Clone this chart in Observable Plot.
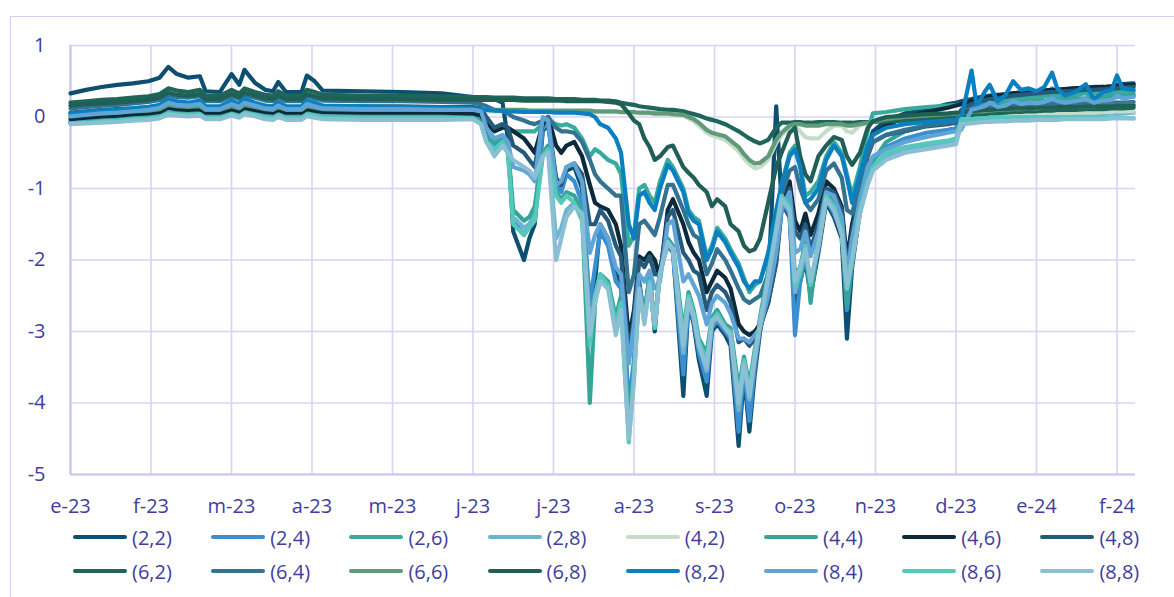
<!DOCTYPE html>
<html><head><meta charset="utf-8">
<script src="https://cdn.jsdelivr.net/npm/d3@7"></script>
<script src="https://cdn.jsdelivr.net/npm/@observablehq/plot@0.6"></script>
<style>
body{margin:0;background:#fff;font-family:"Open Sans",sans-serif;}
#frame{position:absolute;left:10px;top:16px;width:1200px;height:640px;border:1px solid #d3cef2;box-sizing:border-box;}
#chart{position:absolute;left:0;top:0;}
#legend{position:absolute;left:0;top:0;width:1174px;height:597px;}
.item{position:absolute;display:flex;align-items:center;height:28px;font-size:20px;color:#3f3d9e;white-space:nowrap;}
.sw{width:54px;height:4px;border-radius:2px;margin-right:5px;}
</style></head><body>
<div id="frame"></div>
<div id="chart"></div>
<div id="legend"></div>
<script>
// ---- data ----
const xLabels = ["e-23","f-23","m-23","a-23","m-23","j-23","j-23","a-23","s-23","o-23","n-23","d-23","e-24","f-24"];
const yTicks = [1,0,-1,-2,-3,-4,-5];
const names = ["(2,2)","(2,4)","(2,6)","(2,8)","(4,2)","(4,4)","(4,6)","(4,8)","(6,2)","(6,4)","(6,6)","(6,8)","(8,2)","(8,4)","(8,6)","(8,8)"];
const colors = ["#0d4f70","#3b8fd0","#37ab9e","#6fb3d0","#c6dccb","#34a597","#0b2a3c","#265a7a","#1d6659","#317390","#5f9a79","#1f5f56","#0b80c0","#60a4d8","#55c8bc","#8bc0d4"];

const dates = [
 "2023-01-01","2023-01-07","2023-01-13","2023-01-19","2023-01-25","2023-01-31","2023-02-04","2023-02-07","2023-02-10","2023-02-14","2023-02-18","2023-02-20","2023-02-25","2023-03-01","2023-03-04","2023-03-06","2023-03-10","2023-03-14","2023-03-17","2023-03-19","2023-03-22","2023-03-28","2023-03-30","2023-04-02","2023-04-05","2023-04-20","2023-05-05","2023-05-20",
 "2023-06-01","2023-06-04","2023-06-06","2023-06-09","2023-06-12","2023-06-14","2023-06-16","2023-06-20","2023-06-22","2023-06-24","2023-06-27","2023-06-29",
 "2023-07-02","2023-07-04","2023-07-06","2023-07-09","2023-07-12","2023-07-15","2023-07-17","2023-07-19","2023-07-22","2023-07-25","2023-07-27","2023-07-30",
 "2023-08-01","2023-08-03","2023-08-05","2023-08-07","2023-08-09","2023-08-11","2023-08-14","2023-08-16","2023-08-20","2023-08-22","2023-08-24","2023-08-26","2023-08-29","2023-08-31",
 "2023-09-02","2023-09-05","2023-09-07","2023-09-10","2023-09-12","2023-09-14","2023-09-16","2023-09-18","2023-09-21","2023-09-24","2023-09-26","2023-09-29",
 "2023-10-01","2023-10-03","2023-10-05","2023-10-07","2023-10-10","2023-10-13","2023-10-16","2023-10-19","2023-10-21","2023-10-23","2023-10-26","2023-10-29","2023-10-31",
 "2023-11-05","2023-11-12","2023-11-20","2023-11-28","2023-12-01","2023-12-03","2023-12-07","2023-12-09","2023-12-12","2023-12-14","2023-12-17","2023-12-20","2023-12-23","2023-12-26","2023-12-29",
 "2024-01-01","2024-01-04","2024-01-07","2024-01-09","2024-01-12","2024-01-16","2024-01-20","2024-01-23","2024-01-27","2024-01-30","2024-02-01","2024-02-03","2024-02-07"
];

const s22 = [
 0.33,0.38,0.42,0.45,0.47,0.5,0.55,0.7,0.6,0.55,0.57,0.36,0.35,0.6,0.45,0.66,0.48,0.38,0.36,0.49,0.35,0.35,0.58,0.5,0.37,0.36,0.35,0.33,
 0.28,0.27,0.26,0.25,0.2,-0.3,-1.6,-2.0,-1.7,-1.5,-0.2,-0.1,
 -0.9,-1.0,-0.75,-0.7,-1.0,-2.8,-2.3,-1.5,-1.7,-2.2,-2.3,-4.1,
 -3.5,-2.3,-2.8,-2.2,-3.0,-2.1,-1.75,-1.85,-3.9,-2.6,-2.9,-3.4,-3.9,-3.0,
 -2.9,-3.05,-3.2,-4.6,-3.6,-4.4,-3.6,-3.0,-2.4,0.15,-1.2,-1.4,
 -2.6,-2.3,-2.0,-2.5,-1.9,-1.2,-1.4,-1.7,-3.1,-2.1,-1.3,-0.45,-0.2,
 -0.05,0.05,0.1,0.18,0.2,0.22,0.25,0.27,0.29,0.3,0.31,0.32,0.33,0.34,0.35,0.36,0.37,0.38,0.38,0.39,0.4,0.41,0.42,0.42,0.43,0.45,0.46,0.47
];
const s24 = [
 0.02,0.04,0.06,0.07,0.09,0.11,0.14,0.21,0.18,0.17,0.19,0.12,0.12,0.19,0.15,0.21,0.17,0.13,0.12,0.17,0.12,0.12,0.19,0.16,0.13,0.12,0.12,0.11,
 0.1,0.05,-0.25,-0.4,-0.3,-0.45,-1.45,-1.65,-1.5,-1.4,-0.15,-0.1,
 -0.95,-1.05,-0.8,-0.9,-1.2,-2.6,-2.1,-1.6,-1.8,-2.3,-2.4,-4.0,
 -3.4,-2.35,-2.75,-2.25,-2.95,-2.15,-1.8,-1.9,-3.6,-2.6,-2.85,-3.3,-3.7,-2.95,
 -2.85,-3.0,-3.1,-4.4,-3.5,-4.25,-3.5,-2.95,-2.3,-1.55,-1.2,-1.35,
 -3.05,-2.3,-1.95,-2.4,-1.85,-1.15,-1.35,-1.6,-2.7,-2.05,-1.35,-0.75,-0.6,
 -0.42,-0.3,-0.22,-0.18,-0.15,0.05,0.1,0.14,0.2,0.26,0.18,0.22,0.3,0.25,0.28,0.24,0.3,0.4,0.28,0.25,0.3,0.35,0.22,0.28,0.3,0.42,0.3,0.32
];
const s26 = [
 -0.07,-0.06,-0.04,-0.03,-0.01,0.0,0.03,0.08,0.07,0.06,0.07,0.02,0.02,0.07,0.04,0.09,0.06,0.03,0.02,0.06,0.02,0.02,0.07,0.05,0.03,0.02,0.02,0.02,
 0.02,0.0,-0.1,-0.15,-0.1,-0.15,-0.2,-0.2,-0.2,-0.2,-0.1,-0.05,
 -0.1,-0.12,-0.1,-0.15,-0.3,-0.55,-0.45,-0.5,-0.6,-0.65,-0.8,-1.8,
 -1.65,-1.0,-0.95,-1.1,-1.2,-0.9,-0.6,-0.7,-1.0,-1.3,-1.4,-1.45,-1.95,-1.8,
 -1.55,-1.7,-1.85,-2.05,-2.25,-2.45,-2.35,-2.3,-1.95,-1.35,-0.95,-0.5,
 -0.4,-0.65,-1.1,-1.05,-0.9,-0.55,-0.35,-0.5,-0.8,-1.1,-0.7,-0.2,0.05,
 0.07,0.11,0.14,0.16,0.17,0.18,0.2,0.21,0.22,0.23,0.24,0.25,0.26,0.27,0.27,0.28,0.29,0.3,0.3,0.31,0.32,0.33,0.33,0.34,0.34,0.35,0.35,0.36
];
const s28 = [
 -0.07,-0.05,-0.03,-0.02,0.0,0.02,0.04,0.1,0.08,0.07,0.08,0.03,0.03,0.08,0.05,0.1,0.07,0.04,0.03,0.07,0.03,0.03,0.08,0.06,0.04,0.03,0.03,0.02,
 0.0,-0.08,-0.3,-0.5,-0.35,-0.5,-1.4,-1.55,-1.5,-1.35,-0.5,-0.45,
 -1.7,-1.55,-1.3,-1.2,-1.35,-2.9,-2.5,-2.2,-2.3,-2.9,-2.6,-4.35,
 -3.6,-2.4,-2.85,-2.3,-2.9,-2.2,-1.75,-1.85,-3.3,-2.55,-2.8,-3.2,-3.55,-2.9,
 -2.8,-2.95,-3.05,-4.1,-3.45,-3.95,-3.4,-2.9,-2.25,-1.55,-1.15,-1.3,
 -2.45,-2.15,-1.85,-2.35,-1.8,-1.15,-1.3,-1.6,-2.5,-2.0,-1.35,-0.9,-0.7,
 -0.55,-0.45,-0.4,-0.35,-0.33,-0.05,-0.04,-0.03,-0.02,-0.01,0.0,0.0,0.01,0.01,0.02,0.02,0.02,0.03,0.03,0.03,0.04,0.04,0.04,0.05,0.05,0.05,0.05,0.06
];
const s42 = [
 0.0,0.02,0.03,0.04,0.06,0.07,0.09,0.15,0.13,0.12,0.13,0.08,0.08,0.13,0.1,0.15,0.12,0.09,0.08,0.12,0.08,0.08,0.13,0.11,0.09,0.08,0.08,0.08,
 0.08,0.08,0.08,0.08,0.08,0.08,0.08,0.08,0.08,0.08,0.08,0.08,
 0.08,0.08,0.08,0.07,0.07,0.07,0.07,0.07,0.07,0.07,0.06,0.06,
 0.06,0.05,0.05,0.05,0.04,0.04,0.04,0.03,0.02,-0.02,-0.06,-0.12,-0.22,-0.26,
 -0.28,-0.32,-0.38,-0.48,-0.58,-0.66,-0.72,-0.7,-0.6,-0.36,-0.25,-0.14,
 -0.12,-0.2,-0.28,-0.3,-0.3,-0.2,-0.12,-0.12,-0.2,-0.22,-0.12,-0.08,-0.06,
 -0.05,-0.04,-0.03,-0.02,-0.02,-0.01,0.0,0.0,0.01,0.01,0.02,0.02,0.03,0.03,0.03,0.04,0.04,0.05,0.05,0.05,0.06,0.06,0.06,0.07,0.07,0.08,0.08,0.08
];
const s44 = [
 -0.08,-0.07,-0.05,-0.04,-0.02,-0.01,0.01,0.06,0.05,0.04,0.05,0.0,0.0,0.05,0.02,0.07,0.04,0.01,0.0,0.04,0.0,0.0,0.05,0.03,0.01,0.0,0.0,0.0,
 0.0,-0.05,-0.3,-0.35,-0.3,-0.4,-1.3,-1.45,-1.4,-1.25,-0.5,-0.4,
 -1.05,-1.15,-1.05,-1.1,-1.3,-4.0,-2.6,-2.2,-2.3,-2.8,-2.5,-4.4,
 -3.5,-2.4,-2.8,-2.25,-2.9,-2.15,-1.7,-1.8,-3.0,-2.45,-2.7,-3.1,-3.3,-2.8,
 -2.7,-2.9,-2.95,-3.8,-3.35,-3.75,-3.25,-2.8,-2.15,-1.5,-1.05,-1.2,
 -2.2,-2.1,-1.75,-2.6,-1.7,-1.05,-1.2,-1.55,-2.65,-1.95,-1.25,-0.8,-0.62,
 -0.35,-0.2,-0.12,-0.08,-0.05,0.08,0.12,0.14,0.16,0.17,0.18,0.19,0.2,0.21,0.22,0.22,0.23,0.24,0.24,0.25,0.26,0.26,0.27,0.27,0.28,0.28,0.29,0.3
];
const s46 = [
 -0.03,-0.01,0.01,0.02,0.04,0.05,0.07,0.13,0.11,0.1,0.11,0.06,0.06,0.11,0.08,0.13,0.1,0.07,0.06,0.1,0.06,0.06,0.11,0.09,0.07,0.06,0.06,0.06,
 0.05,0.02,-0.1,-0.2,-0.15,-0.15,-0.2,-0.3,-0.4,-0.5,-0.1,0.0,
 -0.4,-0.5,-0.4,-0.35,-0.55,-0.95,-1.2,-1.25,-1.3,-1.5,-1.8,-3.1,
 -2.7,-1.95,-2.0,-1.9,-2.0,-2.25,-1.3,-1.15,-1.5,-1.75,-1.9,-2.0,-2.45,-2.3,
 -2.15,-2.25,-2.4,-2.9,-3.0,-3.05,-3.0,-2.9,-2.6,-2.0,-1.25,-0.9,
 -1.45,-1.6,-1.35,-1.65,-1.35,-0.9,-1.0,-1.25,-2.0,-1.5,-1.0,-0.45,-0.25,
 -0.12,0.0,0.07,0.13,0.16,0.18,0.22,0.24,0.27,0.28,0.3,0.31,0.33,0.34,0.35,0.36,0.37,0.38,0.38,0.39,0.4,0.41,0.41,0.42,0.43,0.44,0.44,0.45
];
const s48 = [
 0.06,0.08,0.1,0.11,0.12,0.14,0.16,0.23,0.2,0.19,0.21,0.14,0.14,0.21,0.17,0.23,0.19,0.15,0.14,0.19,0.14,0.14,0.21,0.18,0.15,0.15,0.15,0.14,
 0.14,0.12,0.0,-0.15,-0.1,-0.15,-0.4,-0.5,-0.6,-0.7,-0.05,-0.03,
 -0.85,-0.95,-0.7,-0.65,-0.8,-1.5,-1.5,-1.3,-1.45,-1.8,-1.95,-3.3,
 -2.8,-2.0,-2.1,-1.95,-2.2,-2.2,-1.4,-1.3,-1.9,-2.0,-2.15,-2.2,-2.7,-2.45,
 -2.35,-2.45,-2.6,-3.15,-3.1,-3.2,-3.1,-2.95,-2.6,-2.05,-1.3,-1.0,
 -1.6,-1.7,-1.5,-1.85,-1.5,-1.0,-1.05,-1.3,-2.1,-1.6,-1.05,-0.55,-0.35,
 -0.25,-0.2,-0.13,-0.1,-0.08,0.1,0.18,0.2,0.23,0.25,0.26,0.28,0.3,0.31,0.32,0.33,0.34,0.35,0.35,0.36,0.37,0.38,0.38,0.39,0.4,0.4,0.41,0.42
];
const s62 = [
 0.2,0.22,0.24,0.25,0.27,0.29,0.32,0.4,0.37,0.35,0.38,0.3,0.3,0.38,0.33,0.4,0.35,0.31,0.3,0.36,0.3,0.3,0.38,0.35,0.31,0.3,0.3,0.29,
 0.28,0.28,0.28,0.27,0.27,0.27,0.27,0.26,0.26,0.26,0.26,0.26,
 0.25,0.25,0.25,0.25,0.24,0.24,0.24,0.23,0.23,0.22,0.2,0.18,
 0.17,0.15,0.14,0.13,0.12,0.11,0.1,0.1,0.08,0.06,0.04,0.02,-0.02,-0.04,
 -0.06,-0.1,-0.14,-0.2,-0.25,-0.3,-0.34,-0.37,-0.32,-0.15,-0.08,-0.08,
 -0.07,-0.07,-0.08,-0.08,-0.07,-0.07,-0.07,-0.08,-0.08,-0.08,-0.07,-0.07,-0.07,
 -0.06,-0.05,-0.03,-0.01,0.0,0.01,0.02,0.03,0.04,0.05,0.05,0.06,0.07,0.07,0.08,0.08,0.09,0.09,0.1,0.1,0.1,0.11,0.11,0.11,0.12,0.12,0.12,0.13
];
const s64 = [
 0.12,0.14,0.16,0.17,0.19,0.21,0.24,0.31,0.28,0.27,0.29,0.22,0.22,0.29,0.25,0.31,0.27,0.23,0.22,0.27,0.22,0.22,0.29,0.26,0.23,0.22,0.22,0.21,
 0.2,0.18,0.15,0.1,0.08,0.05,0.0,-0.05,-0.08,-0.1,-0.05,0.0,
 -0.15,-0.2,-0.2,-0.22,-0.35,-0.6,-0.8,-0.9,-1.0,-1.1,-1.1,-2.45,
 -2.2,-1.5,-1.45,-1.55,-1.65,-1.4,-0.95,-0.95,-1.3,-1.5,-1.65,-1.7,-2.2,-2.05,
 -1.85,-2.0,-2.15,-2.4,-2.55,-2.6,-2.55,-2.5,-2.2,-1.6,-1.1,-0.75,
 -0.7,-1.0,-1.2,-1.3,-1.15,-0.75,-0.65,-0.85,-1.3,-1.35,-0.9,-0.5,-0.35,
 -0.25,-0.18,-0.12,-0.08,-0.06,0.08,0.12,0.13,0.14,0.14,0.15,0.15,0.16,0.16,0.17,0.17,0.17,0.18,0.18,0.18,0.19,0.19,0.19,0.2,0.2,0.2,0.2,0.21
];
const s66 = [
 0.02,0.04,0.05,0.06,0.08,0.09,0.11,0.17,0.15,0.14,0.15,0.1,0.1,0.15,0.12,0.17,0.14,0.11,0.1,0.14,0.1,0.1,0.15,0.13,0.11,0.1,0.1,0.1,
 0.1,0.1,0.1,0.1,0.1,0.1,0.1,0.1,0.09,0.09,0.09,0.09,
 0.09,0.09,0.09,0.09,0.09,0.09,0.08,0.08,0.08,0.08,0.07,0.07,
 0.07,0.06,0.06,0.06,0.05,0.05,0.05,0.04,0.03,0.0,-0.03,-0.08,-0.18,-0.22,
 -0.24,-0.27,-0.33,-0.42,-0.52,-0.6,-0.65,-0.64,-0.55,-0.32,-0.22,-0.12,
 -0.1,-0.1,-0.12,-0.12,-0.12,-0.1,-0.1,-0.1,-0.12,-0.12,-0.1,-0.08,-0.07,
 -0.03,0.0,0.02,0.04,0.05,0.06,0.07,0.08,0.08,0.09,0.1,0.1,0.11,0.11,0.12,0.12,0.13,0.13,0.14,0.14,0.14,0.15,0.15,0.16,0.16,0.16,0.17,0.17
];
const s68 = [
 0.16,0.18,0.19,0.2,0.22,0.24,0.27,0.34,0.31,0.3,0.32,0.25,0.25,0.32,0.28,0.34,0.3,0.26,0.25,0.3,0.25,0.25,0.32,0.29,0.26,0.25,0.25,0.24,
 0.24,0.24,0.24,0.24,0.24,0.24,0.24,0.23,0.23,0.23,0.23,0.23,
 0.23,0.23,0.22,0.22,0.22,0.22,0.22,0.22,0.21,0.2,0.18,0.05,
 -0.05,-0.1,-0.3,-0.42,-0.6,-0.55,-0.42,-0.4,-0.7,-0.78,-0.85,-0.95,-1.05,-1.25,
 -1.15,-1.25,-1.5,-1.6,-1.8,-1.88,-1.85,-1.7,-1.2,-0.7,-0.5,-0.22,
 -0.15,-0.55,-0.8,-0.9,-0.55,-0.4,-0.28,-0.32,-0.55,-0.67,-0.5,-0.15,-0.06,
 0.0,0.02,0.04,0.05,0.06,0.07,0.08,0.09,0.1,0.1,0.11,0.11,0.12,0.12,0.12,0.13,0.13,0.13,0.14,0.14,0.14,0.15,0.15,0.15,0.15,0.16,0.16,0.16
];
const s82 = [
 0.05,0.07,0.09,0.1,0.12,0.14,0.17,0.25,0.22,0.2,0.23,0.15,0.15,0.23,0.18,0.26,0.2,0.16,0.15,0.21,0.15,0.15,0.23,0.2,0.16,0.15,0.14,0.13,
 0.12,0.1,0.1,0.09,0.09,0.08,0.08,0.07,0.07,0.07,0.07,0.07,
 0.06,0.06,0.06,0.06,0.05,0.04,0.0,-0.1,-0.15,-0.3,-0.5,-1.5,
 -1.7,-1.1,-1.05,-1.2,-1.3,-1.0,-0.67,-0.75,-1.05,-1.35,-1.45,-1.5,-2.0,-1.85,
 -1.6,-1.75,-1.9,-2.1,-2.3,-2.4,-2.3,-2.3,-1.9,-1.3,-0.95,-0.55,
 -0.45,-0.7,-1.2,-1.15,-1.0,-0.6,-0.4,-0.55,-0.85,-1.2,-0.8,-0.4,-0.25,
 -0.15,-0.1,-0.07,-0.05,-0.04,-0.03,0.65,0.15,0.35,0.45,0.22,0.3,0.5,0.38,0.4,0.36,0.42,0.62,0.4,0.3,0.35,0.46,0.25,0.35,0.38,0.58,0.4,0.38
];
const s84 = [
 0.01,0.03,0.05,0.06,0.08,0.1,0.13,0.2,0.17,0.16,0.18,0.11,0.11,0.18,0.14,0.2,0.16,0.12,0.11,0.16,0.11,0.11,0.18,0.15,0.12,0.11,0.11,0.1,
 0.1,0.08,-0.15,-0.3,-0.25,-0.35,-0.7,-0.75,-0.8,-0.9,0.0,-0.05,
 -0.95,-0.9,-0.7,-0.65,-0.9,-1.9,-1.65,-1.5,-1.7,-2.1,-2.2,-3.45,
 -2.9,-2.2,-2.3,-2.15,-2.4,-2.3,-1.5,-1.45,-2.3,-2.2,-2.35,-2.5,-2.9,-2.6,
 -2.5,-2.6,-2.75,-3.1,-3.1,-3.15,-3.05,-2.95,-2.5,-1.9,-1.3,-1.05,
 -1.9,-1.85,-1.6,-1.95,-1.6,-1.05,-1.1,-1.4,-2.2,-1.7,-1.15,-0.7,-0.55,
 -0.45,-0.35,-0.28,-0.22,-0.2,-0.18,0.1,0.12,0.15,0.2,0.14,0.16,0.22,0.18,0.2,0.19,0.21,0.26,0.22,0.2,0.22,0.25,0.2,0.23,0.24,0.3,0.26,0.28
];
const s86 = [
 -0.09,-0.08,-0.06,-0.05,-0.03,-0.02,0.0,0.05,0.04,0.03,0.04,-0.01,-0.01,0.04,0.01,0.06,0.03,0.0,-0.01,0.03,-0.01,-0.01,0.04,0.02,0.0,-0.01,-0.01,-0.01,
 -0.02,-0.1,-0.35,-0.45,-0.35,-0.5,-1.5,-1.65,-1.55,-1.45,-0.55,-0.45,
 -1.1,-1.2,-1.1,-1.2,-1.45,-3.2,-2.5,-2.2,-2.35,-2.9,-2.6,-4.55,
 -3.6,-2.45,-2.85,-2.3,-2.95,-2.2,-1.75,-1.85,-3.1,-2.5,-2.75,-3.15,-3.4,-2.85,
 -2.75,-2.95,-3.0,-3.95,-3.4,-3.85,-3.3,-2.85,-2.2,-1.55,-1.1,-1.25,
 -2.35,-2.2,-1.8,-2.35,-1.75,-1.1,-1.25,-1.6,-2.3,-1.95,-1.3,-0.9,-0.7,
 -0.5,-0.42,-0.37,-0.33,-0.3,-0.03,-0.03,-0.02,-0.02,-0.01,-0.01,-0.01,0.0,0.0,0.0,0.0,0.0,0.0,0.0,0.0,-0.01,0.0,0.0,0.0,-0.01,0.0,-0.01,-0.02
];
const s88 = [
 -0.1,-0.09,-0.08,-0.07,-0.05,-0.04,-0.02,0.03,0.02,0.01,0.02,-0.03,-0.03,0.02,-0.01,0.04,0.01,-0.03,-0.04,0.0,-0.04,-0.04,0.01,-0.01,-0.03,-0.04,-0.04,-0.04,
 -0.03,-0.1,-0.35,-0.55,-0.4,-0.5,-0.6,-0.7,-0.75,-0.85,-0.55,-0.5,
 -2.0,-1.7,-1.4,-1.25,-1.35,-3.05,-2.6,-2.3,-2.4,-3.05,-2.7,-4.5,
 -3.7,-2.4,-2.9,-2.35,-2.9,-2.2,-1.75,-1.85,-3.2,-2.55,-2.8,-3.2,-3.5,-2.85,
 -2.8,-2.95,-3.05,-4.0,-3.45,-3.9,-3.35,-2.9,-2.25,-1.6,-1.15,-1.3,
 -2.3,-2.1,-1.85,-2.3,-1.8,-1.15,-1.3,-1.65,-2.4,-2.0,-1.35,-0.95,-0.75,
 -0.6,-0.5,-0.45,-0.4,-0.38,-0.1,-0.09,-0.08,-0.07,-0.07,-0.06,-0.06,-0.05,-0.05,-0.05,-0.04,-0.04,-0.04,-0.04,-0.03,-0.03,-0.03,-0.03,-0.03,-0.02,-0.02,-0.02,-0.02
];
const seriesValues = [s22,s24,s26,s28,s42,s44,s46,s48,s62,s64,s66,s68,s82,s84,s86,s88];

// ---- build ----
function toT(s){ const [y,m,d]=s.split("-").map(Number); const dim=new Date(y,m,0).getDate(); return (y-2023)*12+(m-1)+(d-1)/dim; }
const ts = dates.map(toT);
const TXT = "#3f3d9e", GRID = "#d8d3f3", AXIS = "#cbc5ee";
const H = 520;
const lineMarks = names.map((n,k) => {
  const rows = ts.map((t,i) => ({t, v: seriesValues[k][i], s: n}));
  return Plot.line(rows, {x:"t", y:"v", stroke:"s", strokeWidth:4.2, strokeLinejoin:"round", strokeLinecap:"round"});
});
const chart = Plot.plot({
  width: 1174, height: H,
  marginTop: 45, marginBottom: H-474, marginLeft: 70, marginRight: 39,
  style: {fontFamily: '"Open Sans", sans-serif', background: "transparent", overflow: "visible"},
  x: {domain: [0, 13.23], axis: null, label: null},
  y: {domain: [-5, 1], axis: null, label: null},
  color: {domain: names, range: colors},
  marks: [
    Plot.ruleY(yTicks, {stroke: GRID, strokeWidth: 1.6}),
    Plot.ruleX(d3.range(xLabels.length), {stroke: GRID, strokeWidth: 1.6}),
    Plot.ruleX([0], {stroke: AXIS, strokeWidth: 2.2}),
    Plot.ruleY([-5], {stroke: AXIS, strokeWidth: 2.2}),
    ...lineMarks,
    Plot.axisX(d3.range(xLabels.length), {tickFormat: i => xLabels[i], tickSize: 0, tickPadding: 24, fontSize: 20, color: TXT, label: null}),
    Plot.axisY(yTicks, {tickFormat: d => String(d), tickSize: 0, tickPadding: 25, fontSize: 20, color: TXT, label: null})
  ]
});
document.getElementById("chart").appendChild(chart);

// legend
const leg = document.getElementById("legend");
names.forEach((n,k) => {
  const col = k % 8, row = Math.floor(k / 8);
  const it = document.createElement("div");
  it.className = "item";
  it.style.left = (73 + col*138.2) + "px";
  it.style.top = (523 + row*34) + "px";
  const sw = document.createElement("div");
  sw.className = "sw"; sw.style.background = colors[k];
  const tx = document.createElement("span"); tx.textContent = n;
  it.appendChild(sw); it.appendChild(tx);
  leg.appendChild(it);
});
</script></body></html>
